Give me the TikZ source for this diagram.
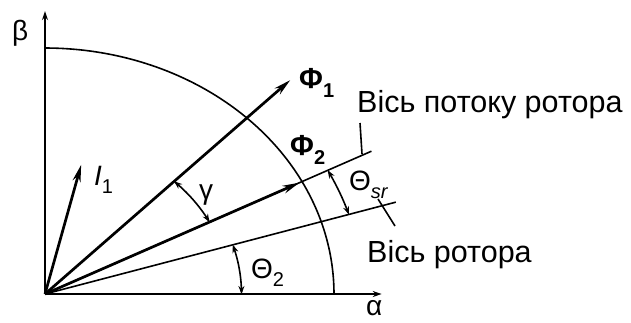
\documentclass[tikz,border=0pt]{standalone}
\usepackage{fontspec}
\setmainfont{Liberation Sans}
\usetikzlibrary{arrows.meta}
\newcommand{\lsub}[1]{\raisebox{-0.32em}{\fontsize{20}{20}\selectfont #1}}
\begin{document}
\begin{tikzpicture}[x=1pt,y=-1pt,
  axisline/.style={line width=1.7pt,-{Stealth[length=9pt,width=6pt]}},
  vecline/.style={line width=2.7pt,-{Stealth[length=17pt,width=8pt]}},
  thinline/.style={line width=1.6pt},
  anglearc/.style={line width=1.6pt,{Stealth[length=8pt,width=6pt]}-{Stealth[length=8pt,width=6pt]}},
  lbl/.style={inner sep=0pt,font=\fontsize{28}{30}\selectfont},
  txt/.style={inner sep=0pt,font=\fontsize{30.5}{32}\selectfont}]
\useasboundingbox (0,0) rectangle (631,322);
\fill[white] (0,0) rectangle (631,322);
\begin{scope}[shift={(45,294)},x={(289pt,0pt)},y={(0pt,246pt)}]
  \coordinate (O) at (0,0);
  \coordinate (Ax) at (1.165,0);
  \coordinate (By) at (0,1.15);
  \coordinate (F1) at (45.7:1.215);
  \coordinate (F2) at (27.2:0.99);
  \coordinate (F2e) at (27.2:1.27);
  \coordinate (Re) at (17.1:1.27);
  \coordinate (I1) at (76.6:0.54);
  % axes
  \draw[axisline] (O) -- (Ax);
  \draw[axisline] (O) -- (By);
  % quarter ellipse
  \draw[thinline] plot[domain=0:90,samples=80] (\x:1);
  % axes of flux and rotor
  \draw[thinline] (O) -- (F2e);
  \draw[thinline] (O) -- (Re);
  % vectors
  \draw[vecline] (O) -- (F1);
  \draw[vecline] (O) -- (F2);
  \draw[vecline] (O) -- (I1);
  % angle arcs
  \draw[anglearc] plot[domain=45.7:27.2,samples=30] (\x:0.64);
  \draw[anglearc] plot[domain=17.1:0,samples=30] (\x:0.68);
  \draw[anglearc] plot[domain=27.2:17.1,samples=30] (\x:1.10);
\end{scope}
% leader lines
\coordinate (L1a) at (360,123);
\coordinate (L1b) at (362,154);
\coordinate (L2a) at (378,199);
\coordinate (L2b) at (395,226);
\draw[thinline] (L1a) -- (L1b);
\draw[thinline] (L2a) -- (L2b);
% labels
\node[lbl,anchor=base west] (beta) at (12,40) {β};
\node[lbl,anchor=base west] (alpha) at (366,315) {α};
\node[lbl,anchor=base west] (gamma) at (199,199) {γ};
\node[lbl,anchor=base west,font=\fontsize{29}{30}\selectfont\bfseries] (phi1) at (299,88) {Φ\lsub{1}};
\node[lbl,anchor=base west,font=\fontsize{29}{30}\selectfont\bfseries] (phi2) at (290,155) {Φ\lsub{2}};
\node[lbl,anchor=base west] (i1) at (94,185) {\itshape I\lsub{\upshape 1}};
\node[lbl,anchor=base west] (th2) at (251,278) {Θ\lsub{2}};
\node[lbl,anchor=base west] (thsr) at (349,190) {Θ\lsub{\itshape sr}};
\node[txt,anchor=base west] (fluxaxis) at (357,112) {Вісь потоку ротора};
\node[txt,anchor=base west] (rotoraxis) at (367,262) {Вісь ротора};
\end{tikzpicture}
\end{document}
